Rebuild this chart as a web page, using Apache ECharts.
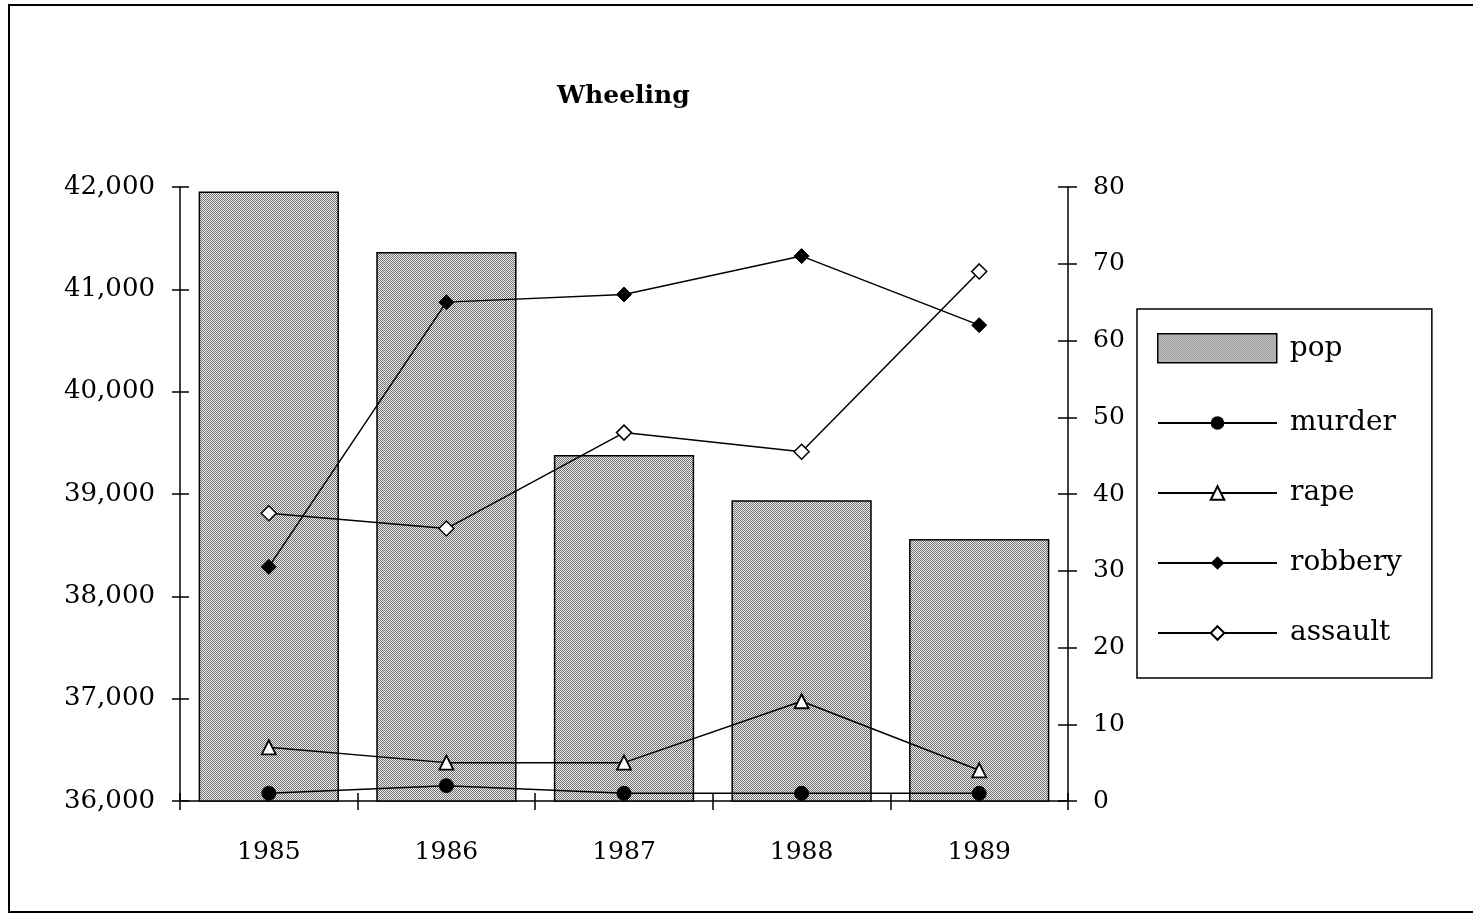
<!DOCTYPE html>
<html>
<head>
<meta charset="utf-8">
<script src="https://cdn.jsdelivr.net/npm/echarts@6/dist/echarts.min.js"></script>
<style>
html,body{margin:0;padding:0;background:#fff;}
#chart{width:1473px;height:914px;}
</style>
</head>
<body>
<div id="chart"></div>
<script>
const years = ['1985', '1986', '1987', '1988', '1989'];
const pop = [41955, 41365, 39380, 38940, 38560];
const murder = [1, 2, 1, 1, 1];
const rape = [7, 5, 5, 13, 4];
const robbery = [30.5, 65, 66, 71, 62];
const assault = [37.5, 35.5, 48, 45.5, 69];

const FONT = 'DejaVu Serif';

// dotted gray fill like the scanned pattern
const pc = document.createElement('canvas');
pc.width = 2; pc.height = 2;
const px = pc.getContext('2d');
px.fillStyle = '#f0f0f0'; px.fillRect(0, 0, 2, 2);
px.fillStyle = '#6e6e6e'; px.fillRect(0, 0, 1, 1); px.fillRect(1, 1, 1, 1);
const barFill = { image: pc, repeat: 'repeat' };

const chart = echarts.init(document.getElementById('chart'), null, { renderer: 'canvas' });

const lineBase = {
  type: 'line',
  yAxisIndex: 1,
  symbolSize: 14,
  lineStyle: { color: '#000', width: 1.5 },
  z: 5
};

chart.setOption({
  animation: false,
  backgroundColor: '#fff',
  title: {
    text: 'Wheeling',
    left: 557,
    top: 84,
    padding: 0,
    textStyle: { fontFamily: FONT, fontSize: 25, fontWeight: 'bold', color: '#000' }
  },
  grid: { left: 180, right: 405, top: 187, bottom: 113, containLabel: false },
  legend: [
    {
      orient: 'vertical',
      left: 1137,
      top: 309,
      padding: [99, 30, 30, 20],
      itemGap: 40,
      itemWidth: 119,
      itemHeight: 17,
      borderColor: '#000',
      borderWidth: 1.5,
      data: ['murder', 'rape', 'robbery', 'assault'],
      textStyle: { fontFamily: FONT, fontSize: 28, color: '#000', lineHeight: 30, padding: [0, 0, 0, 8] }
    },
    {
      orient: 'vertical',
      left: 1157,
      top: 333,
      padding: 0,
      itemWidth: 119,
      itemHeight: 29,
      data: [{ name: 'pop', icon: 'rect', itemStyle: { color: barFill, borderColor: '#000', borderWidth: 1.5 } }],
      textStyle: { fontFamily: FONT, fontSize: 28, color: '#000', lineHeight: 30, padding: [0, 0, 0, 8] }
    }
  ],
  xAxis: [
    {
      type: 'category',
      data: years,
      boundaryGap: true,
      axisLine: { show: true, lineStyle: { color: '#000', width: 1.5 } },
      axisTick: { show: true, inside: false, length: 9, lineStyle: { color: '#000', width: 1.5 } },
      axisLabel: { margin: 39, fontFamily: FONT, fontSize: 25, color: '#000' },
      splitLine: { show: false }
    },
    {
      type: 'category',
      data: years,
      position: 'bottom',
      boundaryGap: true,
      axisLine: { show: false },
      axisTick: { show: true, inside: true, length: 8, lineStyle: { color: '#000', width: 1.5 } },
      axisLabel: { show: false },
      splitLine: { show: false }
    }
  ],
  yAxis: [
    {
      type: 'value',
      position: 'left',
      min: 36000, max: 42000, interval: 1000,
      axisLine: { show: true, lineStyle: { color: '#000', width: 1.5 } },
      axisTick: { show: true, inside: false, length: 8, lineStyle: { color: '#000', width: 1.5 } },
      axisLabel: {
        margin: 25, fontFamily: FONT, fontSize: 26, color: '#000',
        formatter: v => v.toLocaleString('en-US')
      },
      splitLine: { show: false }
    },
    {
      type: 'value',
      position: 'right',
      min: 0, max: 80, interval: 10,
      axisLine: { show: true, lineStyle: { color: '#000', width: 1.5 } },
      axisTick: { show: true, inside: false, length: 9, lineStyle: { color: '#000', width: 1.5 } },
      axisLabel: { margin: 25, fontFamily: FONT, fontSize: 25, color: '#000' },
      splitLine: { show: false }
    },
    {
      type: 'value',
      position: 'left',
      min: 36000, max: 42000, interval: 1000,
      axisLine: { show: false },
      axisTick: { show: true, inside: true, length: 9, lineStyle: { color: '#000', width: 1.5 } },
      axisLabel: { show: false },
      splitLine: { show: false }
    },
    {
      type: 'value',
      position: 'right',
      min: 0, max: 80, interval: 10,
      axisLine: { show: false },
      axisTick: { show: true, inside: true, length: 10, lineStyle: { color: '#000', width: 1.5 } },
      axisLabel: { show: false },
      splitLine: { show: false }
    }
  ],
  graphic: [
    {
      type: 'rect',
      shape: { x: 9, y: 5, width: 1480, height: 907 },
      style: { fill: 'none', stroke: '#000', lineWidth: 2 },
      silent: true,
      z: -1
    }
  ],
  series: [
    {
      name: 'pop',
      type: 'bar',
      yAxisIndex: 0,
      data: pop,
      barCategoryGap: '21%',
      itemStyle: { color: barFill, borderColor: '#000', borderWidth: 1.5 },
      z: 2
    },
    Object.assign({}, lineBase, {
      name: 'murder', data: murder, symbol: 'circle',
      itemStyle: { color: '#000', borderColor: '#000' }
    }),
    Object.assign({}, lineBase, {
      name: 'rape', data: rape, symbol: 'triangle',
      itemStyle: { color: '#fff', borderColor: '#000', borderWidth: 1.8 }
    }),
    Object.assign({}, lineBase, {
      name: 'robbery', data: robbery, symbol: 'diamond', symbolSize: 15,
      itemStyle: { color: '#000', borderColor: '#000' }
    }),
    Object.assign({}, lineBase, {
      name: 'assault', data: assault, symbol: 'diamond', symbolSize: 15,
      itemStyle: { color: '#fff', borderColor: '#000', borderWidth: 1.5 }
    })
  ]
});
</script>
</body>
</html>
